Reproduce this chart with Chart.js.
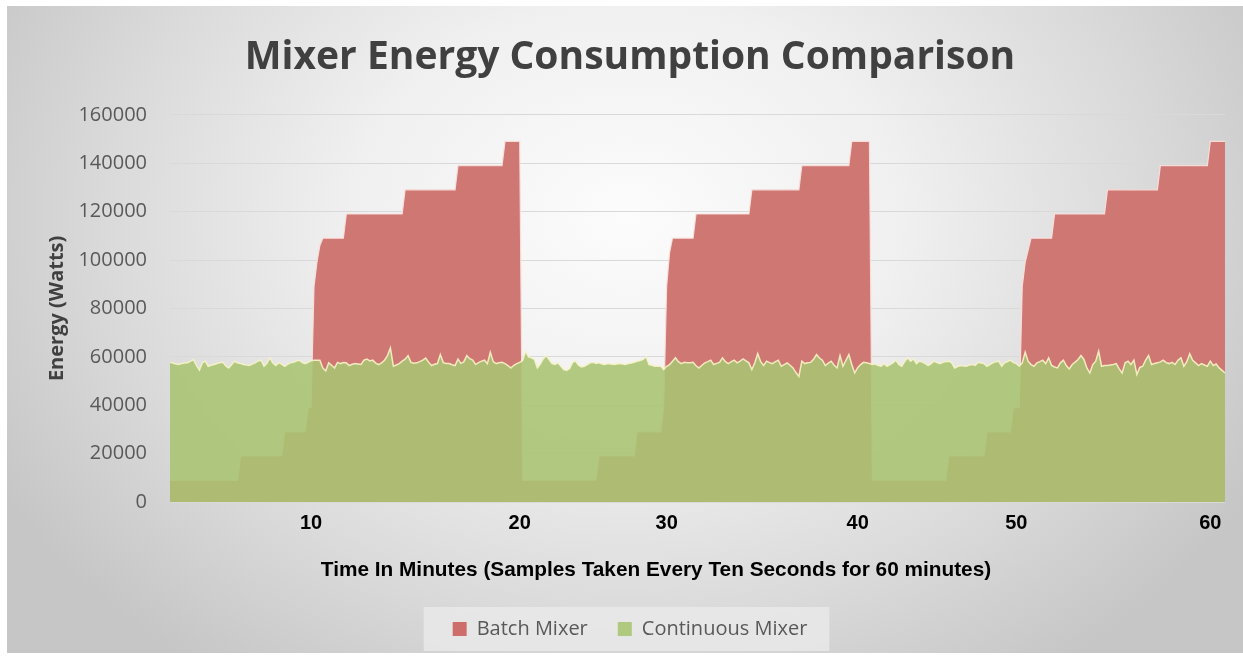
<!DOCTYPE html>
<html><head><meta charset="utf-8">
<script src="https://cdn.jsdelivr.net/npm/chart.js@4.4.1/dist/chart.umd.min.js"></script>
<style>
html,body{margin:0;padding:0;background:#fff;width:1243px;height:657px;overflow:hidden}
#bg{position:absolute;left:7px;top:6px;width:1236px;height:647px;
background:radial-gradient(ellipse 720px 560px at 620px 210px,#fcfcfc 0%,#f0f0f0 38%,#dadada 72%,#c6c6c6 100%);}
#c{position:absolute;left:0;top:0}
</style></head><body>
<div id="bg"></div>
<canvas id="c" width="1243" height="657"></canvas>
<script>
// ---- data (energy in watts, one sample every ten seconds, 360 samples) ----
const seriesNames = ['Batch Mixer', 'Continuous Mixer'];

const batchMixer = [
9000,9000,9000,9000,9000,9000,9000,9000,9000,9000,
9000,9000,9000,9000,9000,9000,9000,9000,9000,9000,
9000,9000,9000,9000,19000,19000,19000,19000,19000,19000,
19000,19000,19000,19000,19000,19000,19000,19000,19000,29000,
29000,29000,29000,29000,29000,29000,29000,39000,39000,89000,
99000,106000,109000,109000,109000,109000,109000,109000,109000,109000,
119000,119000,119000,119000,119000,119000,119000,119000,119000,119000,
119000,119000,119000,119000,119000,119000,119000,119000,119000,119000,
129000,129000,129000,129000,129000,129000,129000,129000,129000,129000,
129000,129000,129000,129000,129000,129000,129000,129000,139000,139000,
139000,139000,139000,139000,139000,139000,139000,139000,139000,139000,
139000,139000,139000,139000,149000,149000,149000,149000,149000,149000,
9000,9000,9000,9000,9000,9000,9000,9000,9000,9000,
9000,9000,9000,9000,9000,9000,9000,9000,9000,9000,
9000,9000,9000,9000,9000,9000,19000,19000,19000,19000,
19000,19000,19000,19000,19000,19000,19000,19000,19000,29000,
29000,29000,29000,29000,29000,29000,29000,29000,39000,89000,
103000,109000,109000,109000,109000,109000,109000,109000,109000,119000,
119000,119000,119000,119000,119000,119000,119000,119000,119000,119000,
119000,119000,119000,119000,119000,119000,119000,119000,129000,129000,
129000,129000,129000,129000,129000,129000,129000,129000,129000,129000,
129000,129000,129000,129000,129000,139000,139000,139000,139000,139000,
139000,139000,139000,139000,139000,139000,139000,139000,139000,139000,
139000,139000,149000,149000,149000,149000,149000,149000,149000,9000,
9000,9000,9000,9000,9000,9000,9000,9000,9000,9000,
9000,9000,9000,9000,9000,9000,9000,9000,9000,9000,
9000,9000,9000,9000,9000,19000,19000,19000,19000,19000,
19000,19000,19000,19000,19000,19000,19000,19000,29000,29000,
29000,29000,29000,29000,29000,29000,29000,39000,39000,39000,
89000,99000,104000,109000,109000,109000,109000,109000,109000,109000,
109000,119000,119000,119000,119000,119000,119000,119000,119000,119000,
119000,119000,119000,119000,119000,119000,119000,119000,119000,129000,
129000,129000,129000,129000,129000,129000,129000,129000,129000,129000,
129000,129000,129000,129000,129000,129000,129000,139000,139000,139000,
139000,139000,139000,139000,139000,139000,139000,139000,139000,139000,
139000,139000,139000,139000,149000,149000,149000,149000,149000,149000
];

const continuousMixer = [
57700,57400,57000,56800,57200,57400,57500,58200,58800,56500,
54500,57500,58200,56100,56500,56800,57200,57500,57700,56200,
55400,56800,58200,57400,57200,56800,56600,56400,57000,57500,
58300,58600,56100,57300,59600,57400,56400,57500,57000,56100,
56900,57500,57700,58200,58600,57600,57200,57700,58400,58600,
58600,58600,55400,54200,57500,56500,55400,57700,57200,57600,
57500,56400,56900,57200,57000,56800,58600,59100,58300,58600,
57400,56800,57500,58600,60500,63700,56100,56600,57200,58200,
59000,60500,57700,57300,57500,58000,58600,59500,57800,56400,
56900,57200,60900,57600,57200,57200,56700,56400,59100,57200,
58000,60500,59200,58600,56800,57600,58200,58600,57200,61900,
58000,57200,57500,57700,57200,56400,55400,56500,57200,57700,
58500,62300,60000,59600,58900,55400,57000,59100,60500,58900,
57200,56800,57500,56100,54700,54400,55200,57700,58200,56500,
55800,56100,56800,57500,57700,57200,57500,57000,56800,57200,
57000,56800,57000,57200,57000,56800,57200,57400,57700,58200,
58500,58900,60000,56800,56500,56100,56100,56100,54700,56100,
56800,58200,59600,58000,57200,57700,57500,57500,57700,56300,
55400,56500,57500,58000,58600,56800,57300,57700,59600,58000,
57200,58000,58600,57500,58200,59100,58300,57500,54700,57500,
61300,58000,56400,58200,57600,57200,58000,58600,56100,56800,
57500,56500,55400,53500,51900,58200,57200,57500,57700,59000,
60900,59500,58600,56400,57400,58200,56500,55400,60500,56100,
58500,60900,56800,53300,55500,56800,57700,57500,57200,56800,
57000,56400,56100,57200,56100,56800,57500,58600,56800,56100,
58000,59600,58200,59100,57200,58200,57800,57200,56400,57200,
58200,57600,57200,57700,58000,58200,57500,55400,56000,56400,
56200,56100,56600,56800,56400,57700,57400,57200,56100,56800,
57500,58000,58200,56100,57500,58000,58600,57600,57200,56100,
57500,61900,58200,56800,56100,57500,58000,58600,57200,59600,
56400,55800,55400,57500,58600,56400,55000,56800,57800,58900,
60500,58900,55400,53300,56800,58200,62300,56100,56400,56400,
56600,56800,57200,55000,53300,57500,58200,56800,58600,52700,
55600,56100,58600,60500,56800,57200,57500,57900,58600,57600,
57200,57700,56800,58600,59600,56100,58000,61300,58600,57500,
56400,57200,56600,56100,58200,56400,57000,55400,54400,53300
];

// x-axis tick labels (minutes) and the sample at which each is printed
const tickMinutes = ['10', '20', '30', '40', '50', '60'];
const tickSampleIndex = [48, 119, 169, 234, 288, 354];

// y-axis ticks
const yTicks = [0, 20000, 40000, 60000, 80000, 100000, 120000, 140000, 160000];

const sampleLabels = batchMixer.map((_, i) => {
  const k = tickSampleIndex.indexOf(i);
  return k >= 0 ? tickMinutes[k] : '';
});

// ---- styling ----
const fillColors = ['#CE7773', 'rgba(169,196,115,0.89)'];
const lineColors = ['rgba(250,222,218,0.95)', 'rgba(248,243,200,0.9)'];
const swatchColors = ['#CD6E6B', '#AFC97E'];

const legendBox = {
  id: 'legendBox',
  beforeDraw(chart) {
    const lg = chart.legend;
    if (!lg || !lg.legendHitBoxes || !lg.legendHitBoxes.length) return;
    const hb = lg.legendHitBoxes;
    const first = hb[0], last = hb[hb.length - 1];
    const cy = first.top + first.height / 2;
    const x0 = first.left - 29, x1 = last.left + last.width + 22;
    const ctx = chart.ctx;
    ctx.save();
    ctx.fillStyle = 'rgba(234,234,234,0.8)';
    ctx.fillRect(x0, cy - 22, x1 - x0, 44);
    ctx.restore();
  }
};

const xAxisTitle = {
  id: 'xAxisTitle',
  afterDraw(chart, args, opts) {
    const ctx = chart.ctx;
    ctx.save();
    ctx.font = 'bold 20.8px "Liberation Sans", Arial, sans-serif';
    ctx.fillStyle = '#000000';
    ctx.textAlign = 'center';
    ctx.textBaseline = 'middle';
    ctx.fillText(opts.text, opts.x, opts.y);
    ctx.restore();
  }
};

Chart.defaults.font.family = "'Open Sans', sans-serif";

new Chart(document.getElementById('c'), {
  type: 'line',
  data: {
    labels: sampleLabels,
    datasets: [
      { label: seriesNames[0], data: batchMixer, order: 1, fill: 'origin',
        backgroundColor: fillColors[0], borderColor: lineColors[0], borderWidth: 1.2,
        pointRadius: 0, tension: 0 },
      { label: seriesNames[1], data: continuousMixer, order: 0, fill: 'origin',
        backgroundColor: fillColors[1], borderColor: lineColors[1], borderWidth: 1.5,
        pointRadius: 0, tension: 0 }
    ]
  },
  options: {
    responsive: false,
    animation: false,
    devicePixelRatio: 1,
    events: [],
    layout: { padding: { left: 35, right: 18, top: 10, bottom: 8 } },
    plugins: {
      tooltip: { enabled: false },
      title: {
        display: true,
        text: 'Mixer Energy Consumption Comparison',
        color: '#404040',
        font: { family: "'Open Sans', sans-serif", size: 39, weight: 'bold' },
        padding: { top: 24, bottom: 34 }
      },
      legend: {
        position: 'bottom',
        labels: {
          boxWidth: 14, boxHeight: 14, padding: 30,
          color: '#595959',
          font: { family: "'Open Sans', sans-serif", size: 20 },
          generateLabels: (chart) => chart.data.datasets.map((ds, i) => ({
            text: ds.label, fillStyle: swatchColors[i], strokeStyle: swatchColors[i],
            lineWidth: 0, hidden: false, datasetIndex: i, fontColor: '#595959'
          }))
        }
      },
      xAxisTitle: { text: 'Time In Minutes (Samples Taken Every Ten Seconds for 60 minutes)', x: 656, y: 570 }
    },
    scales: {
      x: {
        grid: { display: false, drawTicks: false },
        border: { display: false },
        ticks: {
          autoSkip: false, maxRotation: 0, minRotation: 0, padding: 9,
          color: '#000000',
          font: { family: '"Liberation Sans", Arial, sans-serif', size: 20, weight: 'bold' }
        },
        afterFit: (s) => { s.height = 87; }
      },
      y: {
        min: yTicks[0], max: yTicks[yTicks.length - 1],
        grid: { color: '#d9d9d9', lineWidth: 1, drawTicks: false },
        border: { display: false },
        ticks: {
          stepSize: yTicks[1] - yTicks[0], padding: 23,
          color: '#595959',
          font: { family: "'Open Sans', sans-serif", size: 20 },
          callback: (v) => String(v)
        },
        title: {
          display: true, text: 'Energy (Watts)', color: '#404040',
          font: { family: "'Open Sans', sans-serif", size: 20, weight: 'bold' },
          padding: { top: 10, bottom: 0 }
        },
        afterFit: (s) => { s.width = 135; }
      }
    }
  },
  plugins: [legendBox, xAxisTitle]
});
</script></body></html>
